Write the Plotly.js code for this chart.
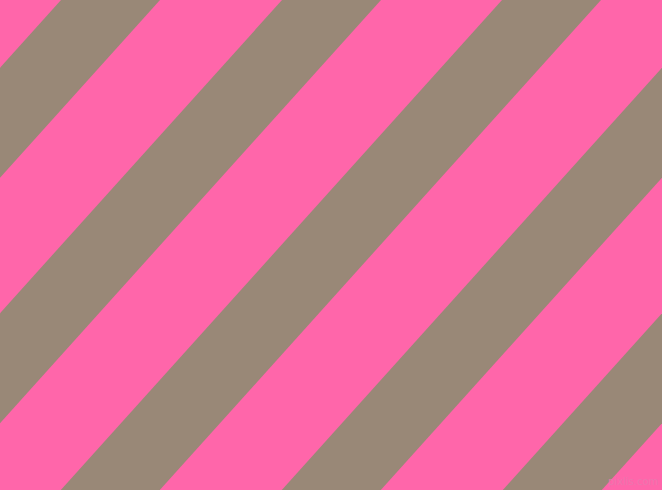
<!DOCTYPE html>
<html>
<head>
<meta charset="utf-8">
<script src="https://cdn.plot.ly/plotly-3.0.1.min.js"></script>
<style>
  html, body { margin: 0; padding: 0; background: #ff66aa; }
  #myDiv { width: 662px; height: 490px; }
</style>
</head>
<body>
<div id="myDiv"></div>
<script>
// where each grey band crosses the top edge (px)
var bandStarts = [61, 282, 502, 723, 944];
var bandWidth = 99;
var bandColors = ["#998877", "#998877", "#998877", "#998877", "#998877"];
var W = 662, H = 490;
var slope = Math.tan(48 * Math.PI / 180); // dy/dx of the stripes

var data = [];
for (var i = 0; i < bandStarts.length; i++) {
  var x0 = bandStarts[i];
  var shift = H / slope;
  data.push({
    type: "scatter",
    mode: "lines",
    x: [x0, x0 + bandWidth, x0 + bandWidth - shift, x0 - shift, x0],
    y: [0, 0, H, H, 0],
    fill: "toself",
    fillcolor: bandColors[i],
    line: { width: 0, color: bandColors[i] },
    hoverinfo: "skip",
    showlegend: false
  });
}

var layout = {
  width: W,
  height: H,
  margin: { t: 0, r: 0, l: 0, b: 0 },
  paper_bgcolor: "#ff66aa",
  plot_bgcolor: "#ff66aa",
  xaxis: { range: [0, W], visible: false, fixedrange: true },
  yaxis: { range: [H, 0], visible: false, fixedrange: true },
  annotations: [{
    text: "pixlis.com",
    xref: "paper", yref: "paper",
    x: 0.997, y: 0.003,
    xanchor: "right", yanchor: "bottom",
    showarrow: false,
    font: { family: "DejaVu Sans", size: 10, color: "rgba(235,120,175,0.9)" }
  }]
};
Plotly.newPlot("myDiv", data, layout, { displayModeBar: false, staticPlot: true });
</script>
</body>
</html>
